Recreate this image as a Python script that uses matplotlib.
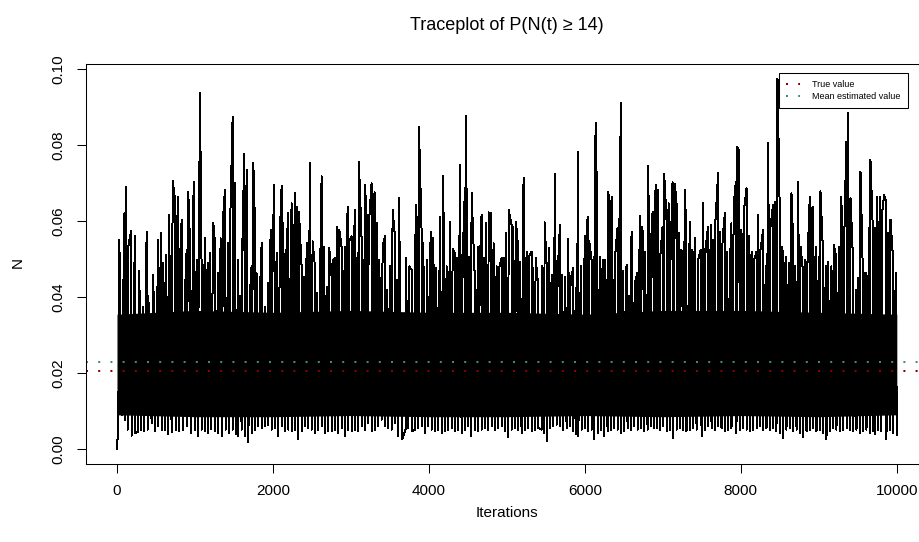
import numpy as np
import matplotlib
matplotlib.use('Agg')
import matplotlib.pyplot as plt
from matplotlib.lines import Line2D

plt.rcParams['font.family'] = ['Liberation Sans', 'DejaVu Sans']

# upper spikes of the trace (iteration, value)
peak_iter = [30, 95, 115, 145, 180, 230, 286, 338, 380, 402, 466, 530, 564, 594, 628, 667, 714, 744, 778, 808,
             829, 872, 893, 914, 936, 983, 1021, 1064, 1085, 1128, 1162, 1192, 1235, 1256, 1299, 1329, 1355, 1385,
             1427, 1449, 1483, 1513, 1555, 1577, 1602, 1632, 1662, 1705, 1726, 1748, 1769, 1790, 1833, 1855, 1897,
             1940, 1970, 1996, 2017, 2055, 2090, 2111, 2132, 2167, 2196, 2239, 2282, 2303, 2333, 2367, 2397, 2432,
             2474, 2508, 2538, 2560, 2602, 2624, 2654, 2688, 2722, 2752, 2773, 2795, 2825, 2850, 2880, 2923, 2957,
             2979, 3008, 3030, 3051, 3085, 3102, 3137, 3158, 3180, 3201, 3226, 3265, 3286, 3303, 3329, 3363, 3406,
             3436, 3466, 3500, 3534, 3564, 3585, 3615, 3705, 3748, 3778, 3829, 3842, 3872, 3906, 3928, 3979, 4022,
             4056, 4090, 4141, 4184, 4227, 4269, 4304, 4334, 4363, 4398, 4432, 4462, 4475, 4509, 4547, 4590, 4633,
             4654, 4675, 4705, 4731, 4765, 4795, 4829, 4868, 4898, 4932, 4962, 4987, 5022, 5060, 5081, 5116, 5145,
             5167, 5210, 5218, 5252, 5282, 5316, 5338, 5368, 5402, 5453, 5483, 5509, 5543, 5573, 5616, 5650, 5680,
             5710, 5748, 5786, 5816, 5851, 5885, 5915, 5949, 6000, 6034, 6056, 6086, 6116, 6137, 6158, 6193, 6227,
             6261, 6299, 6321, 6342, 6385, 6419, 6440, 6462, 6492, 6534, 6569, 6598, 6641, 6671, 6705, 6727, 6748,
             6769, 6812, 6855, 6876, 6906, 6932, 6962, 6996, 7017, 7047, 7073, 7098, 7124, 7154, 7175, 7205, 7230,
             7252, 7282, 7303, 7346, 7380, 7410, 7453, 7487, 7517, 7547, 7581, 7615, 7645, 7675, 7709, 7731, 7765,
             7795, 7825, 7859, 7880, 7910, 7936, 7953, 7979, 8008, 8038, 8073, 8107, 8137, 8171, 8201, 8222, 8252,
             8286, 8320, 8350, 8380, 8414, 8436, 8470, 8500, 8534, 8564, 8585, 8615, 8649, 8671, 8696, 8735, 8765,
             8799, 8829, 8855, 8884, 8919, 8949, 8970, 9000, 9021, 9055, 9090, 9119, 9162, 9192, 9226, 9261, 9290,
             9320, 9346, 9355, 9372, 9406, 9440, 9483, 9504, 9534, 9560, 9590, 9611, 9645, 9662, 9697, 9718, 9748,
             9773, 9790, 9812, 9837, 9867, 9889, 9919, 9953, 9987]
peak_val = [.0551, .0621, .0691, .0533, .0573, .0560, .0468, .0375, .0573, .0402, .0459, .0551, .0569, .0490, .0511,
            .0617, .0706, .0656, .0665, .0494, .0604, .0411, .0525, .0676, .0542, .0704, .0498, .0937, .0472, .0555,
            .0490, .0516, .0595, .0542, .0463, .0555, .0595, .0683, .0542, .0577, .0875, .0700, .0498, .0402, .0481,
            .0777, .0735, .0411, .0481, .0753, .0595, .0463, .0411, .0542, .0375, .0437, .0577, .0533, .0696, .0516,
            .0573, .0693, .0595, .0498, .0621, .0647, .0674, .0638, .0625, .0481, .0454, .0542, .0753, .0547, .0481,
            .0411, .0428, .0718, .0533, .0428, .0529, .0454, .0498, .0503, .0586, .0577, .0533, .0533, .0638, .0547,
            .0560, .0463, .0630, .0516, .0757, .0551, .0498, .0696, .0612, .0582, .0700, .0612, .0676, .0595, .0498,
            .0533, .0560, .0419, .0481, .0630, .0560, .0446, .0662, .0503, .0481, .0472, .0643, .0608, .0849, .0573,
            .0542, .0498, .0573, .0555, .0476, .0611, .0720, .0481, .0599, .0526, .0516, .0503, .0748, .0498, .0687,
            .0877, .0507, .0674, .0441, .0533, .0490, .0617, .0503, .0595, .0623, .0621, .0542, .0481, .0476, .0503,
            .0503, .0569, .0630, .0590, .0586, .0599, .0525, .0494, .0689, .0713, .0520, .0507, .0520, .0476, .0503,
            .0428, .0481, .0597, .0485, .0529, .0459, .0725, .0459, .0589, .0459, .0454, .0553, .0447, .0476, .0424,
            .0782, .0481, .0560, .0612, .0547, .0498, .0507, .0860, .0634, .0507, .0498, .0498, .0676, .0647, .0665,
            .0503, .0582, .0542, .0911, .0468, .0485, .0402, .0573, .0437, .0463, .0615, .0586, .0569, .0520, .0746,
            .0612, .0625, .0696, .0683, .0494, .0586, .0724, .0604, .0647, .0498, .0703, .0698, .0647, .0569, .0525,
            .0520, .0683, .0551, .0599, .0525, .0555, .0498, .0525, .0647, .0529, .0586, .0590, .0551, .0604, .0726,
            .0573, .0551, .0621, .0520, .0485, .0595, .0647, .0704, .0796, .0783, .0577, .0625, .0687, .0560, .0520,
            .0498, .0520, .0617, .0525, .0577, .0481, .0807, .0586, .0643, .0652, .0975, .0612, .0533, .0481, .0507,
            .0490, .0674, .0542, .0481, .0704, .0533, .0463, .0498, .0498, .0665, .0638, .0490, .0533, .0507, .0679,
            .0511, .0481, .0494, .0481, .0538, .0503, .0533, .0665, .0498, .0744, .0810, .0886, .0661, .0490, .0419,
            .0450, .0731, .0507, .0463, .0463, .0582, .0761, .0551, .0582, .0665, .0573, .0665, .0621, .0670, .0647,
            .0569, .0604, .0498, .0463]

# lower dips of the trace (iteration, value); first and last samples included
dip_iter = [0, 17, 60, 102, 137, 188, 231, 273, 308, 350, 393, 444, 487, 530, 573, 615, 658, 701, 752, 795, 850,
            893, 949, 1000, 1034, 1085, 1128, 1171, 1205, 1256, 1299, 1350, 1393, 1436, 1483, 1521, 1555, 1598,
            1641, 1684, 1726, 1769, 1812, 1855, 1897, 1940, 1983, 2026, 2068, 2111, 2154, 2197, 2239, 2282, 2325,
            2367, 2410, 2453, 2496, 2538, 2581, 2624, 2667, 2709, 2752, 2795, 2838, 2880, 2923, 2966, 3008, 3051,
            3094, 3137, 3179, 3222, 3265, 3308, 3350, 3393, 3436, 3479, 3522, 3564, 3607, 3658, 3701, 3735, 3778,
            3821, 3864, 3906, 3949, 3992, 4035, 4077, 4120, 4163, 4205, 4248, 4291, 4334, 4376, 4419, 4462, 4505,
            4539, 4590, 4633, 4676, 4718, 4761, 4804, 4846, 4889, 4932, 4975, 5017, 5060, 5103, 5146, 5188, 5231,
            5274, 5317, 5359, 5402, 5445, 5479, 5509, 5552, 5594, 5637, 5680, 5723, 5765, 5808, 5851, 5885, 5915,
            5958, 6000, 6043, 6086, 6116, 6163, 6205, 6248, 6291, 6334, 6376, 6419, 6462, 6505, 6547, 6590, 6633,
            6676, 6718, 6761, 6804, 6846, 6889, 6919, 6961, 7004, 7047, 7090, 7132, 7175, 7218, 7261, 7303, 7346,
            7389, 7432, 7496, 7538, 7581, 7624, 7667, 7709, 7752, 7795, 7837, 7880, 7944, 7987, 8030, 8073, 8115,
            8158, 8201, 8243, 8286, 8329, 8372, 8414, 8457, 8500, 8543, 8585, 8628, 8671, 8714, 8756, 8799, 8842,
            8884, 8927, 8970, 9013, 9055, 9098, 9141, 9184, 9226, 9269, 9312, 9355, 9397, 9440, 9483, 9525, 9568,
            9611, 9654, 9697, 9718, 9761, 9803, 9867, 9910, 9953, 10000]
dip_val = [.0000, .0064, .0090, .0077, .0051, .0035, .0042, .0046, .0051, .0046, .0051, .0068, .0046, .0060, .0049,
           .0051, .0040, .0044, .0049, .0046, .0051, .0060, .0042, .0051, .0033, .0051, .0046, .0042, .0053, .0046,
           .0042, .0035, .0051, .0042, .0051, .0038, .0033, .0051, .0035, .0017, .0042, .0051, .0061, .0055, .0060,
           .0064, .0051, .0055, .0033, .0060, .0046, .0051, .0046, .0051, .0025, .0046, .0060, .0055, .0051, .0042,
           .0051, .0060, .0042, .0046, .0046, .0051, .0042, .0055, .0033, .0051, .0046, .0051, .0046, .0060, .0051,
           .0068, .0046, .0051, .0060, .0077, .0060, .0055, .0051, .0068, .0033, .0025, .0051, .0055, .0046, .0051,
           .0055, .0060, .0042, .0060, .0051, .0046, .0051, .0042, .0046, .0051, .0055, .0046, .0051, .0042, .0051,
           .0060, .0033, .0051, .0046, .0051, .0055, .0051, .0060, .0051, .0055, .0060, .0046, .0032, .0051, .0055,
           .0051, .0042, .0051, .0055, .0046, .0051, .0055, .0051, .0042, .0020, .0055, .0060, .0064, .0060, .0051,
           .0055, .0060, .0046, .0038, .0033, .0051, .0055, .0046, .0051, .0026, .0042, .0051, .0033, .0046, .0051,
           .0055, .0051, .0042, .0046, .0055, .0051, .0060, .0051, .0055, .0046, .0051, .0060, .0055, .0055, .0051,
           .0060, .0046, .0051, .0029, .0051, .0055, .0051, .0046, .0051, .0055, .0051, .0033, .0051, .0060, .0055,
           .0051, .0060, .0055, .0046, .0051, .0055, .0042, .0051, .0055, .0051, .0046, .0051, .0055, .0060, .0051,
           .0055, .0051, .0055, .0046, .0042, .0029, .0051, .0055, .0046, .0051, .0042, .0032, .0046, .0051, .0055,
           .0046, .0051, .0042, .0025, .0046, .0055, .0051, .0046, .0051, .0055, .0051, .0046, .0051, .0042, .0046,
           .0051, .0042, .0046, .0038, .0051, .0046, .0026, .0051, .0042, .0038]

# solid part of the band, where the trace is too dense to see single lines
core_iter = [0, 1000, 2000, 3000, 4000, 5000, 6000, 7000, 8000, 9000, 10000]
core_lo = [.0090, .0085, .0085, .0088, .0085, .0085, .0088, .0085, .0088, .0085, .0090]
core_hi = [.0355, .0365, .0360, .0365, .0360, .0360, .0355, .0365, .0365, .0360, .0355]

true_value = 0.0206
mean_estimate = 0.0230

x_ticks = [0, 2000, 4000, 6000, 8000, 10000]
y_ticks = [0.00, 0.02, 0.04, 0.06, 0.08, 0.10]

# the trace runs through the spikes and dips in iteration order
it = np.array(peak_iter + dip_iter)
val = np.array(peak_val + dip_val)
order = np.argsort(it, kind='stable')

W, H = 920, 542
fig = plt.figure(figsize=(W / 100, H / 100), dpi=100)
# plot box runs past the right edge of the picture, as in the reference
left, right, top, bottom = 85.8, 928, 64, 463.8
ax = fig.add_axes([left / W, 1 - bottom / H, (right - left) / W, (bottom - top) / H])

ax.fill_between(core_iter, core_lo, core_hi, color='black', lw=0)
ax.plot(it[order], val[order], color='black', lw=0.72, antialiased=False)

dots = (0, (1, 5.1))
ax.axhline(true_value, color='#8B0000', lw=1.44, linestyle=dots, dash_capstyle='butt')
ax.axhline(mean_estimate, color='#458B74', lw=1.44, linestyle=dots, dash_capstyle='butt')

ax.set_xlim(-400, 10400)
ax.set_ylim(-0.0039, 0.1014)
ax.set_xticks(x_ticks)
ax.set_xticklabels([str(t) for t in x_ticks])
ax.set_yticks(y_ticks)
ax.set_yticklabels(['%.2f' % t for t in y_ticks])
ax.tick_params(length=6.5, width=0.75, pad=8, labelsize=11, colors='black')
for lab in ax.get_yticklabels():
    lab.set_rotation(90)
    lab.set_va('center')
for s in ax.spines.values():
    s.set_linewidth(0.75)
    s.set_color('black')

handles = [Line2D([], [], color='#8B0000', lw=1.44, linestyle=dots, dash_capstyle='butt'),
           Line2D([], [], color='#458B74', lw=1.44, linestyle=dots, dash_capstyle='butt')]
leg = ax.legend(handles, ['True value', 'Mean estimated value'], loc='upper right',
                bbox_to_anchor=(0.976, 0.9775), borderaxespad=0, fontsize=6.5,
                handlelength=1.6, handletextpad=1.3, labelspacing=0.3, borderpad=0.8,
                fancybox=False, framealpha=1, edgecolor='black')
leg.get_frame().set_linewidth(0.75)

fig.text(507 / W, 1 - 25 / H, 'Traceplot of P(N(t) \u2265 14)', ha='center', va='center', fontsize=13)
fig.text(507 / W, 1 - 513 / H, 'Iterations', ha='center', va='center', fontsize=11)
fig.text(18 / W, 1 - 263 / H, 'N', ha='center', va='center', rotation=90, fontsize=11)

fig.savefig('out.png', dpi=100)
